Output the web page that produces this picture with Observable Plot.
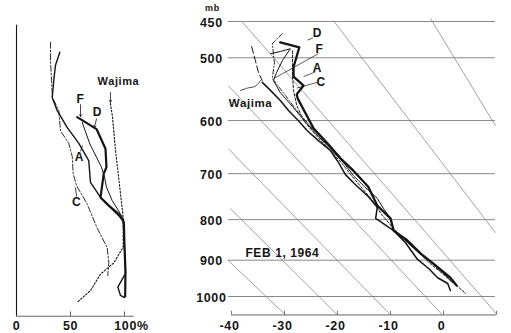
<!DOCTYPE html>
<html><head><meta charset="utf-8">
<script src="https://cdn.jsdelivr.net/npm/d3@7"></script>
<script src="https://cdn.jsdelivr.net/npm/@observablehq/plot@0.6"></script>
<style>
html,body{margin:0;padding:0;background:#fff;}
#wrap{position:relative;width:511px;height:333px;overflow:hidden;background:#fff;}
#wrap svg{position:absolute;left:0;top:0;}
</style></head><body><div id="wrap"></div>
<script>
// ---------- shared pressure axis ----------
const P_LEVELS = [450, 500, 600, 700, 800, 900, 1000];
const P_LABELS = ["450", "500", "600", "700", "800", "900", "1000"];

// ---------- left panel: relative humidity (%) ----------
const RH_TICKS = [0, 50, 100];
const RH_TICK_LABELS = ["0", "50", "100%"];
const RH_A = [40.1, 36.1, 34.5, 33.1, 37.7, 46.9, 57.7, 66.9, 68.5, 77.8, 87.0, 94.7, 98.8, 99.4, 100, 100.9, 93.8, 96.3, 100];
const P_RH_A = [492, 511, 534, 561, 583, 612, 641, 674, 718, 750, 772, 791, 802, 833, 867, 936, 973, 997, 1003];
const RH_C = [31.5, 31.5, 32.4, 33.3, 39.2, 40.7, 48.4, 51.6, 52.5, 55.6, 65.5, 74.7, 84.0, 85.5, 84.5];
const P_RH_C = [478, 504, 534, 561, 583, 618, 641, 666, 700, 725, 765, 820, 868, 907, 941];
const RH_D = [56.2, 74.1, 82.4, 83.3, 80.8, 77.8, 85.5, 94.7, 99.4, 100, 100.9, 100.6];
const P_RH_D = [594, 615, 651, 687, 700, 750, 768, 787, 806, 866, 928, 1000];
const RH_F = [60.8, 67.9, 78.7, 81.5, 83.3, 88.6, 96.3, 99.4];
const P_RH_F = [603, 642, 687, 707, 728, 757, 787, 802];
const RH_W = [87.0, 88.9, 91.7, 94.4, 96.3, 98.8, 98.8, 90.1, 77.8, 68.5, 56.2];
const P_RH_W = [571, 594, 655, 704, 742, 795, 866, 907, 937, 983, 1017];

const LEFT_LABELS = ["Wajima", "F", "D", "A", "C"];
const LEFT_LABEL_RH = [94.4, 59.3, 75, 58.3, 55.6];
const LEFT_LABEL_P = [536, 564, 586, 668, 761];

// ---------- right panel: temperature (°C) ----------
const T_TICKS = [-40, -30, -20, -10, 0, 10];
const T_TICK_LABELS = ["-40", "-30", "-20", "-10", "0", ""];
const T_D = [-30.8, -27.2, -28.3, -28.3, -26.4, -27.7, -27.5, -24.5, -21.9, -19.4, -17.0, -14.2, -12.5, -10.0, -9.4, -6.8, -4.3, -1.9, 1.3, 2.5];
const P_D = [478, 485, 514, 528, 542, 556, 563, 614, 641, 670, 694, 727, 768, 797, 826, 850, 883, 909, 947, 969];
const T_A = [-34.2, -32.6, -30.8, -29.2, -27.4, -25.7, -23.6, -21.3, -19.8, -18.5, -16.6, -14.2, -12.5, -12.8, -9.4, -7.2, -4.9, -2.8, -1.1, 0.8, 1.3];
const P_A = [537, 550, 566, 583, 600, 618, 636, 655, 678, 702, 723, 748, 772, 797, 826, 855, 898, 922, 947, 963, 983];
const T_C = [-28.5, -28.5, -28.3, -27.7, -26.4, -24.0, -21.3, -19.1, -17.5, -15.3, -13.4, -11.5, -9.4, -7.2, -4.7, -2.5, 0, 2.3, 4.2];
const P_C = [490, 526, 550, 574, 600, 627, 655, 680, 702, 731, 757, 791, 821, 850, 880, 909, 938, 966, 992];
const T_F = [-32.6, -30.8, -28.9, -30.4, -31.5, -32.1, -30.8, -28.5, -26.0, -23.6, -20.9, -18.7, -17.0, -14.9, -12.5, -11.3, -10.0, -9.4, -7.2, -4.9, -2.5, -0.2, 1.7];
const P_F = [494, 491, 487, 504, 522, 534, 553, 576, 603, 628, 656, 680, 704, 727, 752, 775, 797, 826, 850, 878, 904, 933, 961];
const T_E = [-30.4, -32.3, -31.9, -32.3, -29.8, -27.4, -24.7, -22.1, -19.4, -17.2];
const P_E = [466, 480, 507, 531, 558, 586, 614, 641, 670, 694];
const T_W = [-36.2, -35.5, -34.9, -34.2];
const P_W = [484, 504, 522, 534];

// slanted reference lines of the diagram (start / end)
const DIAG_T1 = [-37.9, -20.75, -2.45, -40.6, -40.6, -40.2, -40.6];
const DIAG_P1 = [451, 449, 446, 542, 651, 775, 901];
const DIAG_T2 = [10.2, 9.8, 9.8, -0.2, -10, -20, -29.8];
const DIAG_P2 = [1055, 831, 609, 1055, 1055, 1055, 1055];

const RIGHT_LABELS = ["D", "F", "A", "C", "Wajima"];
const RIGHT_LABEL_T = [-23.8, -23.4, -23.8, -23.1, -36.4];
const RIGHT_LABEL_P = [466, 488, 515, 536, 571];
const RIGHT_LEAD_T1 = [-24.6, -23.6, -24.2, -23.8];
const RIGHT_LEAD_P1 = [472, 494, 521, 537];
const RIGHT_LEAD_T2 = [-25.7, -32.0, -26.4, -27.7];
const RIGHT_LEAD_P2 = [475, 531, 528, 546];
const WAJ_LEAD_T = [-38.3, -37.0, -35.5, -34.5];
const WAJ_LEAD_P = [550, 546, 543, 534];

// ---------- helpers ----------
const INK = "#151515";
const FONT = "Liberation Sans, Arial, Helvetica, sans-serif";
const pts = (X, P) => X.map((x, i) => ({x, p: P[i]}));
const segs = (X1, P1, X2, P2) => X1.map((x, i) => ({x1: x, p1: P1[i], x2: X2[i], p2: P2[i]}));
const yScale = {type: "log", domain: [450, 1000], range: [21, 296], axis: null};
const baseStyle = {background: "transparent", fontFamily: FONT, fontWeight: "bold", letterSpacing: "0.6px", overflow: "visible"};
const wrap = document.getElementById("wrap");

// ---------- left panel ----------
const left = Plot.plot({
  width: 511, height: 333, margin: 0,
  x: {domain: [0, 100], range: [16, 124], axis: null},
  y: yScale,
  style: baseStyle,
  marks: [
    Plot.ruleX([0], {y1: 455, y2: 1059, stroke: INK, strokeWidth: 1.1}),
    Plot.ruleY([1059], {x1: 0, x2: 109, stroke: "#555", strokeWidth: 0.9}),
    Plot.ruleX(RH_TICKS.slice(1), {y1: 1059, y2: 1046, stroke: "#444", strokeWidth: 0.9}),
    Plot.text(RH_TICKS, {x: d => d, y: 1091, text: (d, i) => RH_TICK_LABELS[i],
      fontSize: 12.5, fontWeight: "bold", fill: INK}),
    Plot.line(pts(RH_C, P_RH_C), {x: "x", y: "p", stroke: INK, strokeWidth: 0.9, strokeDasharray: "6,2,1.5,2"}),
    Plot.line(pts(RH_W, P_RH_W), {x: "x", y: "p", stroke: INK, strokeWidth: 1.1, strokeDasharray: "1.6,1.8"}),
    Plot.line(pts(RH_F, P_RH_F), {x: "x", y: "p", stroke: INK, strokeWidth: 1.0}),
    Plot.line(pts(RH_A, P_RH_A), {x: "x", y: "p", stroke: INK, strokeWidth: 1.4}),
    Plot.line(pts(RH_D, P_RH_D), {x: "x", y: "p", stroke: INK, strokeWidth: 2.2}),
    Plot.arrow([{x1: 87, p1: 553, x2: 87, p2: 569}, {x1: 59.3, p1: 573, x2: 59.3, p2: 593}, {x1: 74.1, p1: 597, x2: 72.2, p2: 612}],
      {x1: "x1", y1: "p1", x2: "x2", y2: "p2", stroke: INK, strokeWidth: 0.8, headLength: 4}),
    Plot.link([{x1: 59.3, p1: 656, x2: 61.1, p2: 645}, {x1: 55.6, p1: 748, x2: 54.6, p2: 729}],
      {x1: "x1", y1: "p1", x2: "x2", y2: "p2", stroke: INK, strokeWidth: 0.8}),
    Plot.text(LEFT_LABELS, {x: (d, i) => LEFT_LABEL_RH[i], y: (d, i) => LEFT_LABEL_P[i], text: d => d,
      fontSize: (d) => d === "Wajima" ? 11 : 12, fontWeight: "bold", fill: INK})
  ]
});
// RH tick label "100%" sits slightly right of its tick
d3.select(left).selectAll("text").filter(function () { return this.textContent === "100%"; }).attr("dx", 7);
wrap.appendChild(left);

// ---------- right panel ----------
const right = Plot.plot({
  width: 511, height: 333, margin: 0,
  x: {domain: [-40, 10], range: [231, 496], axis: null},
  y: yScale,
  style: baseStyle,
  marks: [
    Plot.ruleY(P_LEVELS, {y: d => d, x1: -40.6, x2: 9.8, stroke: "#6a6a6a", strokeWidth: 0.8}),
    Plot.link(segs(DIAG_T1, DIAG_P1, DIAG_T2, DIAG_P2), {x1: "x1", y1: "p1", x2: "x2", y2: "p2", stroke: "#7a7a7a", strokeWidth: 0.7}),
    Plot.ruleY([1055], {x1: -40, x2: 10, stroke: "#555", strokeWidth: 0.9}),
    Plot.ruleX(T_TICKS, {x: d => d, y1: 1055, y2: 1044, stroke: "#555", strokeWidth: 0.8}),
    Plot.text(T_TICKS, {x: d => d, y: 1091, text: (d, i) => T_TICK_LABELS[i], dx: -2, fontSize: 12.5, fontWeight: "bold", fill: INK}),
    Plot.text(P_LEVELS, {x: -43.8, y: d => d, text: (d, i) => P_LABELS[i], dy: 1, fontSize: 12.5, fontWeight: "bold", fill: INK}),
    Plot.text(["mb"], {x: -43.6, y: 433, text: d => d, fontSize: 9, fontWeight: "bold", fill: INK}),
    Plot.text(["FEB 1, 1964"], {x: -30.4, y: 883, text: d => d, fontSize: 12, fontWeight: "bold", fill: INK}),
    Plot.line(pts(T_W, P_W), {x: "x", y: "p", stroke: INK, strokeWidth: 1.0, strokeDasharray: "7,3"}),
    Plot.line(pts(T_E, P_E), {x: "x", y: "p", stroke: INK, strokeWidth: 0.9, strokeDasharray: "5,2,1,2"}),
    Plot.line(pts(T_C, P_C), {x: "x", y: "p", stroke: INK, strokeWidth: 1.0, strokeDasharray: "2.5,1.8"}),
    Plot.line(pts(T_F, P_F), {x: "x", y: "p", stroke: INK, strokeWidth: 1.0}),
    Plot.line(pts(T_A, P_A), {x: "x", y: "p", stroke: INK, strokeWidth: 1.5}),
    Plot.line(pts(T_D, P_D), {x: "x", y: "p", stroke: INK, strokeWidth: 2.3}),
    Plot.link(segs(RIGHT_LEAD_T1, RIGHT_LEAD_P1, RIGHT_LEAD_T2, RIGHT_LEAD_P2), {x1: "x1", y1: "p1", x2: "x2", y2: "p2", stroke: INK, strokeWidth: 0.7}),
    Plot.line(pts(WAJ_LEAD_T, WAJ_LEAD_P), {x: "x", y: "p", stroke: INK, strokeWidth: 0.8, curve: "catmull-rom"}),
    Plot.text(RIGHT_LABELS, {x: (d, i) => RIGHT_LABEL_T[i], y: (d, i) => RIGHT_LABEL_P[i], text: d => d,
      fontSize: d => d === "Wajima" ? 11.5 : 12, fontWeight: "bold", fill: INK})
  ]
});
wrap.appendChild(right);
</script></body></html>
